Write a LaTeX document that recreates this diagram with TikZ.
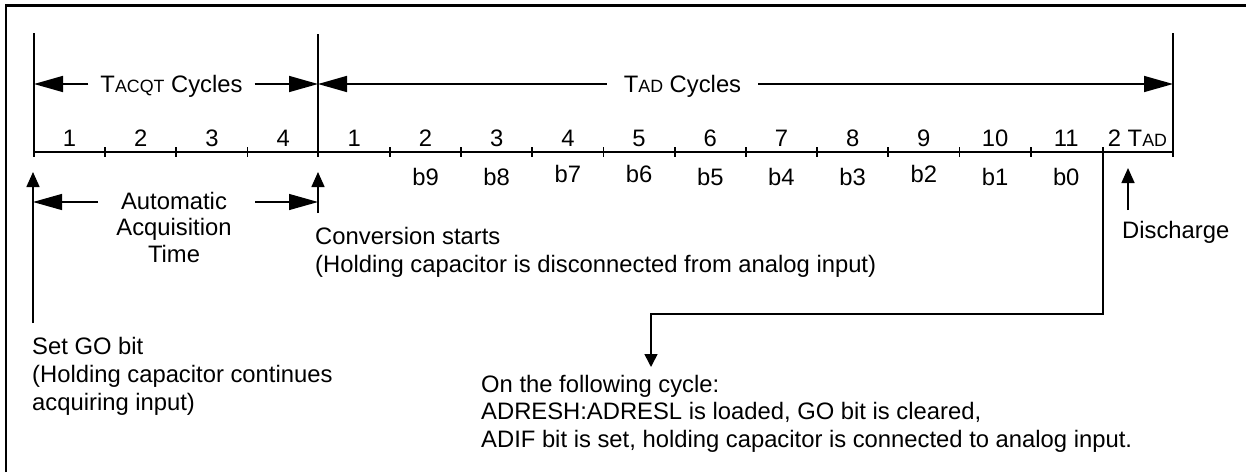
\documentclass[tikz,border=0pt]{standalone}
\usepackage{fontspec}
\setmainfont{Liberation Sans}
\usetikzlibrary{arrows.meta}
\newcommand{\smc}[1]{{\fontsize{17.8}{20}\selectfont #1}}
\newcommand{\mylines}[2]{\begin{tabular}[t]{@{}#1@{}}#2\end{tabular}}
\begin{document}
\begin{tikzpicture}[x=1pt,y=-1pt,
  txt/.style={font=\fontsize{23.8}{27.5}\selectfont, inner sep=0pt},
  ln/.style={line width=1.8pt},
  tickmark/.style={line width=1.8pt},
  bigarrow/.style={line width=1.6pt, -{Triangle[length=29pt,width=16pt]}},
  uparrow/.style={line width=1.6pt, -{Triangle[length=15pt,width=13pt]}},
  frameline/.style={line width=2.6pt}]
\useasboundingbox (0,0) rectangle (1246,472);
% frame (top and left edges)
\draw[frameline] (6,472) -- (6,5.5) -- (1246,5.5);
% timeline skeleton
\coordinate (L0t) at (34,33);   \coordinate (L0b) at (34,157);
\coordinate (L1t) at (318,34);  \coordinate (L1b) at (318,157);
\coordinate (L2t) at (1173,33); \coordinate (L2b) at (1173,157);
\coordinate (axL) at (34,152);  \coordinate (axR) at (1173,152);
\draw[ln] (L0t) -- (L0b);
\draw[ln] (L1t) -- (L1b);
\draw[ln] (L2t) -- (L2b);
\draw[ln] (axL) -- (axR);
\foreach \i in {1,2,3,5,6,7,8,9,10,11,12,13,14}
  \draw[tickmark] ({34+71.1875*\i},147) -- ({34+71.1875*\i},157);
% cycle numbers
\foreach \n [count=\i from 0] in {1,2,3,4,1,2,3,4,5,6,7,8,9,10,11}
  \node[txt, anchor=base] (n\i) at ({34+71.1875*(\i+0.5)},146) {\n};
\node[txt, anchor=base] (n15) at ({34+71.1875*15.5},146) {2 T\smc{AD}};
% bit labels
\foreach \b/\i/\y in {9/5/185, 8/6/185, 7/7/182, 6/8/182, 5/9/185, 4/10/185, 3/11/185, 2/12/182, 1/13/185, 0/14/185}
  \node[txt, anchor=base] (b\b) at ({34+71.1875*(\i+0.5)},\y) {b\b};
% cycle spans
\node[txt, text height=16.8pt, text depth=0pt, inner xsep=12pt] (tacqt) at (171.5,84) {T\smc{ACQT} Cycles};
\draw[bigarrow] (tacqt.west) -- (tacqt.west -| L0t);
\draw[bigarrow] (tacqt.east) -- (tacqt.east -| L1t);
\node[txt, text height=16.8pt, text depth=0pt, inner xsep=17pt] (tad) at (682.5,84) {T\smc{AD} Cycles};
\draw[bigarrow] (tad.west) -- (tad.west -| L1t);
\draw[bigarrow] (tad.east) -- (tad.east -| L2t);
% set GO bit
\coordinate (sgB) at (33,323); \coordinate (sgT) at (33,172);
\draw[uparrow] (sgB) -- (sgT);
\node[txt, anchor=base west] (setgo) at (32,354)
  {\fontsize{23.8}{28}\selectfont\mylines{l}{Set GO bit\\(Holding capacitor continues\\acquiring input)}};
% conversion starts
\coordinate (cvB) at (318,213); \coordinate (cvT) at (318,172);
\draw[uparrow] (cvB) -- (cvT);
\node[txt, anchor=base west] (conv) at (315,244)
  {\fontsize{23.8}{28}\selectfont\mylines{l}{Conversion starts\\(Holding capacitor is disconnected from analog input)}};
% automatic acquisition time
\node[txt, anchor=base] (auto) at (174,209)
  {\fontsize{23.8}{26.5}\selectfont\mylines{c}{Automatic\\Acquisition\\Time}};
\coordinate (auL) at (98,202); \coordinate (auR) at (255,202);
\draw[bigarrow, line width=1.2pt] (auL) -- (auL -| sgT);
\draw[bigarrow, line width=1.2pt] (auR) -- (auR -| cvT);
% discharge
\coordinate (dcB) at (1128,210); \coordinate (dcT) at (1128,168);
\draw[uparrow] (dcB) -- (dcT);
\node[txt, anchor=base west] (dis) at (1122,238) {Discharge};
% following cycle
\coordinate (brT) at (1103,147); \coordinate (brB) at (1103,314);
\coordinate (brL) at (651,314);  \coordinate (brE) at (651,367);
\draw[line width=1.6pt, -{Triangle[length=13pt,width=13pt]}] (brT) -- (brB) -- (brL) -- (brE);
\node[txt, anchor=base west] (follow) at (481,392)
  {\fontsize{23.8}{27.5}\selectfont\mylines{l}{On the following cycle:\\ADRESH:ADRESL is loaded, GO bit is cleared,\\ADIF bit is set, holding capacitor is connected to analog input.}};
\end{tikzpicture}
\end{document}
